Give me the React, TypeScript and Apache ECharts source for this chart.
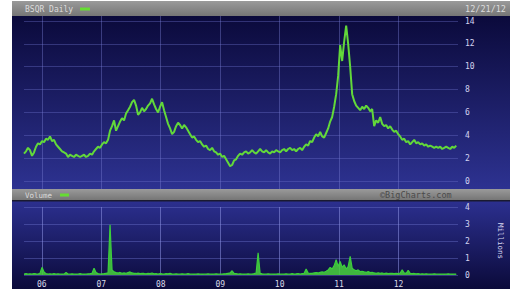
import React, { useEffect, useRef } from "react";
import * as echarts from "echarts";

const startYear = 2005.7;
const endYear = 2012.97;
const yearTicks = [2006, 2007, 2008, 2009, 2010, 2011, 2012];
const yearLabels = ["06", "07", "08", "09", "10", "11", "12"];
const priceTicks = [0, 2, 4, 6, 8, 10, 12, 14];
const volumeTicks = [0, 1, 2, 3, 4];

const price = [
  2.4, 2.6, 2.9, 2.7, 2.2, 2.5, 3.0, 3.3, 3.2, 3.5,
  3.4, 3.7, 3.6, 3.9, 3.5, 3.6, 3.2, 3.0, 2.8, 2.6,
  2.5, 2.4, 2.1, 2.3, 2.2, 2.1, 2.3, 2.2, 2.1, 2.2,
  2.3, 2.1, 2.2, 2.4, 2.3, 2.6, 2.8, 3.0, 2.9, 3.2,
  3.4, 3.3, 3.6, 4.4, 4.8, 5.3, 4.4, 4.8, 5.2, 5.5,
  5.3, 5.9, 6.2, 6.5, 6.9, 7.1, 6.6, 5.8, 6.0, 6.4,
  6.1, 6.3, 6.6, 6.8, 7.2, 6.7, 6.3, 6.0, 6.5, 6.9,
  6.2, 5.6, 5.0, 4.6, 4.1, 4.3, 4.8, 5.1, 4.9, 4.6,
  4.9, 4.7, 4.4, 4.1, 3.8, 3.9, 3.6, 3.4, 3.5, 3.2,
  3.0, 3.1, 2.8, 2.7, 2.9, 2.6, 2.5, 2.3, 2.4, 2.1,
  2.2, 1.9, 1.6, 1.3, 1.4, 1.8, 1.9, 2.2, 2.4, 2.3,
  2.5, 2.6, 2.4, 2.5, 2.7, 2.5, 2.4, 2.6, 2.8, 2.6,
  2.5, 2.7, 2.5, 2.4, 2.6, 2.5, 2.7, 2.6, 2.5, 2.7,
  2.8, 2.6, 2.8, 2.9, 2.7, 2.8, 2.6, 2.8, 2.9, 2.7,
  3.0, 3.2, 3.1, 3.5, 3.4, 3.8, 4.1, 3.9, 4.3, 3.9,
  3.8, 4.2, 4.6, 5.2, 5.6, 6.5, 7.6, 9.2, 11.9, 10.5,
  12.2, 13.6, 12.0, 10.0, 7.6, 7.0, 6.6, 6.4, 6.2, 6.5,
  6.3, 6.6, 6.4, 6.1, 6.3, 4.8, 5.3, 5.1, 5.6, 5.0,
  4.8, 4.9, 4.6, 4.8, 4.5, 4.3, 4.4, 4.1, 3.9, 3.6,
  3.7, 3.4, 3.5, 3.2, 3.4, 3.6, 3.3, 3.4, 3.2, 3.3,
  3.1, 3.2, 3.0, 3.1, 3.0, 2.9, 3.0, 2.9, 3.0, 2.8,
  2.9, 3.0, 2.9, 2.8, 3.0, 2.9, 3.1,
];

const volume = [
  0.06, 0.08, 0.05, 0.07, 0.06, 0.09, 0.07, 0.06, 0.10, 0.45,
  0.18, 0.08, 0.06, 0.07, 0.05, 0.08, 0.06, 0.07, 0.05, 0.06,
  0.05, 0.15, 0.06, 0.05, 0.07, 0.05, 0.06, 0.05, 0.08, 0.05,
  0.06, 0.05, 0.07, 0.08, 0.10, 0.40, 0.15, 0.08, 0.06, 0.07,
  0.08, 0.10, 0.12, 2.95, 0.30, 0.18, 0.14, 0.12, 0.15, 0.10,
  0.12, 0.10, 0.14, 0.18, 0.12, 0.10, 0.09, 0.11, 0.08, 0.10,
  0.09, 0.07, 0.10, 0.08, 0.12, 0.07, 0.08, 0.06, 0.09, 0.07,
  0.06, 0.08, 0.07, 0.10, 0.06, 0.05, 0.07, 0.06, 0.05, 0.07,
  0.06, 0.05, 0.08, 0.06, 0.05, 0.06, 0.05, 0.07, 0.05, 0.06,
  0.05, 0.06, 0.07, 0.05, 0.06, 0.05, 0.07, 0.06, 0.05, 0.06,
  0.07, 0.08, 0.10, 0.12, 0.25, 0.10, 0.08, 0.06, 0.07, 0.05,
  0.06, 0.05, 0.07, 0.05, 0.06, 0.08, 0.12, 1.30, 0.10, 0.07,
  0.06, 0.05, 0.07, 0.06, 0.05, 0.06, 0.05, 0.07, 0.06, 0.05,
  0.06, 0.07, 0.05, 0.06, 0.08, 0.06, 0.07, 0.09, 0.06, 0.08,
  0.10, 0.35, 0.12, 0.09, 0.10, 0.12, 0.14, 0.12, 0.15, 0.18,
  0.16, 0.22, 0.30, 0.45, 0.35, 0.55, 0.90, 0.50, 0.80, 0.45,
  0.60, 0.35, 0.50, 1.10, 0.40, 0.30, 0.25, 0.30, 0.20, 0.22,
  0.18, 0.15, 0.20, 0.14, 0.16, 0.12, 0.10, 0.13, 0.10, 0.12,
  0.09, 0.11, 0.08, 0.10, 0.09, 0.08, 0.10, 0.08, 0.12, 0.30,
  0.12, 0.10, 0.28, 0.10, 0.08, 0.09, 0.07, 0.08, 0.06, 0.07,
  0.06, 0.07, 0.05, 0.06, 0.05, 0.07, 0.06, 0.05, 0.06, 0.05,
  0.06, 0.05, 0.07, 0.05, 0.06, 0.05, 0.06,
];

const FONT = "DejaVu Sans Mono";

export default function App() {
  const ref = useRef<HTMLDivElement>(null);
  useEffect(() => {
    if (!ref.current) return;
    const chart = echarts.init(ref.current, undefined, { renderer: "svg" });
    const n = price.length;
    const t = (i: number) => startYear + (i * (endYear - startYear)) / (n - 1);
    const priceData = price.map((v, i) => [t(i), v]);
    const volData = volume.map((v, i) => [t(i), v]);

    const priceBg = new echarts.graphic.LinearGradient(0, 0, 0, 1, [
      { offset: 0, color: "#0b0a3b" },
      { offset: 1, color: "#2d3291" },
    ]);
    const volBg = new echarts.graphic.LinearGradient(0, 0, 0, 1, [
      { offset: 0, color: "#2c3090" },
      { offset: 1, color: "#0b0a3a" },
    ]);
    const barBg = new echarts.graphic.LinearGradient(0, 0, 0, 1, [
      { offset: 0, color: "#9a9a9a" },
      { offset: 1, color: "#767676" },
    ]);

    const xCommon = {
      type: "value" as const,
      min: startYear,
      max: 2013.0,
      axisLine: { show: false },
      axisTick: { show: false, customValues: yearTicks },
    };

    chart.setOption({
      animation: false,
      backgroundColor: "#ffffff",
      graphic: [
        { type: "rect", z: -10, shape: { x: 12, y: 16, width: 498, height: 173 }, style: { fill: priceBg } },
        { type: "rect", z: -10, shape: { x: 12, y: 200, width: 498, height: 89 }, style: { fill: volBg } },
        { type: "rect", z: -9, shape: { x: 12, y: 1, width: 498, height: 15 }, style: { fill: barBg } },
        { type: "rect", z: -9, shape: { x: 12, y: 189, width: 498, height: 11 }, style: { fill: barBg } },
        { type: "rect", z: -9, shape: { x: 12, y: 200, width: 498, height: 1.5 }, style: { fill: "#1a1a30" } },
        { type: "text", x: 25, y: 9, style: { text: "BSQR Daily", fill: "#dcdcdc", font: `8px '${FONT}'`, verticalAlign: "middle" } },
        { type: "rect", shape: { x: 80, y: 7.5, width: 10, height: 3 }, style: { fill: "#66dd33" } },
        { type: "text", x: 506, y: 9, style: { text: "12/21/12", fill: "#dcdcdc", font: `8.5px '${FONT}'`, align: "right", verticalAlign: "middle" } },
        { type: "text", x: 25, y: 195, style: { text: "Volume", fill: "#dcdcdc", font: `7.5px '${FONT}'`, verticalAlign: "middle" } },
        { type: "rect", shape: { x: 60, y: 193.5, width: 9, height: 3 }, style: { fill: "#66dd33" } },
        { type: "text", x: 380, y: 195, style: { text: "\u00A9BigCharts.com", fill: "#4a4a4a", font: `8.5px '${FONT}'`, verticalAlign: "middle" } },
        { type: "text", x: 500, y: 241, rotation: -Math.PI / 2, style: { text: "Millions", fill: "#d8d8f0", font: `7.5px '${FONT}'`, align: "center", verticalAlign: "middle" } },
      ],
      grid: [
        { left: 24, top: 16, width: 434, height: 173 },
        { left: 24, top: 207, width: 434, height: 68 },
      ],
      xAxis: [
        {
          ...xCommon,
          gridIndex: 0,
          axisLabel: { show: false },
          splitLine: { show: true, lineStyle: { color: "rgba(120,125,210,0.42)", width: 1 } },
        },
        {
          ...xCommon,
          gridIndex: 1,
          splitLine: { show: true, lineStyle: { color: "rgba(140,145,225,0.55)", width: 1 } },
          axisLabel: {
            show: true,
            customValues: yearTicks,
            margin: 5,
            color: "#d8d8e8",
            fontSize: 8,
            fontFamily: FONT,
            formatter: (v: number) => yearLabels[yearTicks.indexOf(Math.round(v))] ?? "",
          },
        },
      ],
      yAxis: [
        {
          type: "value",
          gridIndex: 0,
          position: "right",
          min: -0.7,
          max: 14.44,
          axisLine: { show: false },
          axisTick: { show: false, customValues: priceTicks },
          axisLabel: { customValues: priceTicks, margin: 7, color: "#d4d4f0", fontSize: 8, fontFamily: FONT },
          splitLine: { show: true, lineStyle: { color: "rgba(105,110,200,0.4)", width: 1 } },
        },
        {
          type: "value",
          gridIndex: 1,
          position: "right",
          min: 0,
          max: 4,
          axisLine: { show: false },
          axisTick: { show: false, customValues: volumeTicks },
          axisLabel: { customValues: volumeTicks, margin: 7, color: "#d4d4f0", fontSize: 8, fontFamily: FONT },
          splitLine: { show: true, lineStyle: { color: "rgba(105,110,200,0.45)", width: 1 } },
        },
      ],
      series: [
        {
          type: "line",
          xAxisIndex: 0,
          yAxisIndex: 0,
          data: priceData,
          showSymbol: false,
          lineStyle: { color: "#62d83a", width: 2 },
          z: 5,
        },
        {
          type: "line",
          xAxisIndex: 1,
          yAxisIndex: 1,
          data: volData,
          showSymbol: false,
          lineStyle: { color: "#3ccf3c", width: 1.2 },
          areaStyle: { color: "#49d23d", opacity: 0.85 },
          z: 5,
        },
      ],
    });
    return () => chart.dispose();
  }, []);
  return (
    <div
      ref={ref}
      style={{ position: "fixed", left: 0, top: 0, width: 512, height: 289 }}
    />
  );
}
